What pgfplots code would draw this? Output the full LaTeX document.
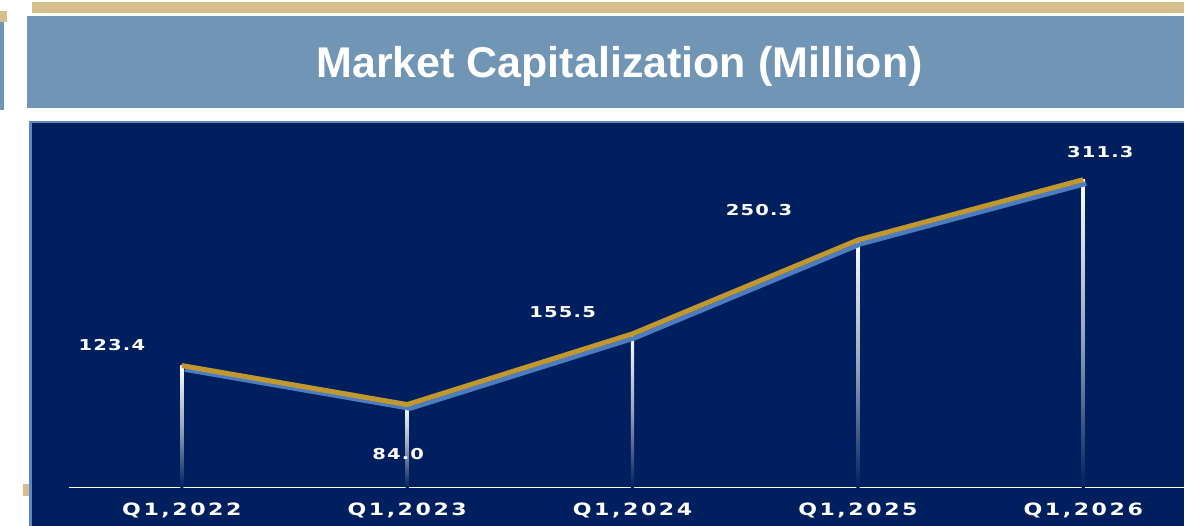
\documentclass[border=0pt]{standalone}
\usepackage{pgfplots}
\pgfplotsset{compat=1.18}
\usepackage{fontspec}
\setmainfont{Liberation Sans}
\newfontfamily\lblfont[FakeStretch=1.3,LetterSpace=8]{DejaVu Sans}
\newfontfamily\tickfont[FakeStretch=1.3,LetterSpace=15]{DejaVu Sans}
\definecolor{navy}{HTML}{001F5E}
\definecolor{panelborder}{HTML}{5F86C4}
\definecolor{band}{HTML}{7095B5}
\definecolor{tanc}{HTML}{D6BF8D}
\definecolor{gold}{HTML}{C0982F}
\definecolor{shadowblue}{HTML}{4C7DC1}
\begin{document}
\begin{tikzpicture}[x=1pt,y=1pt]
\fill[white] (0,0) rectangle (1185,526);
\fill[tanc] (32,524) rectangle (1185,513);
\fill[tanc] (0,515) rectangle (7,504);
\fill[band] (0,504) rectangle (4,416);
\fill[band] (27,510) rectangle (1185,418);
\node[text=white, font=\fontsize{43}{43}\selectfont\bfseries] at (620,460) {Market Capitalization (Million)};
\fill[panelborder] (29,0) rectangle (1185,405);
\fill[navy] (32,0) rectangle (1185,403);
\fill[tanc] (23,42) rectangle (29,30);
\begin{axis}[
  at={(69pt,38pt)}, anchor=south west,
  scale only axis, width=1116pt, height=367pt,
  xmin=-0.501, xmax=4.448, ymin=0, ymax=370.7,
  axis x line*=bottom, hide y axis,
  x axis line style={white, line width=1.6pt},
  xtick={0,1,2,3,4},
  xticklabels={{Q1,2022},{Q1,2023},{Q1,2024},{Q1,2025},{Q1,2026}},
  major tick length=0pt,
  xticklabel style={text=white, font=\tickfont\bfseries\fontsize{17}{17}\selectfont, yshift=-12pt},
  clip=false,
  drop/.style={ybar, bar shift=0pt, bar width=3.2pt, draw=none, top color=white, bottom color=navy, middle color=white!60!navy},
]
\addplot[drop] coordinates {(0,123.4)};
\addplot[drop] coordinates {(1,84.0)};
\addplot[drop] coordinates {(2,155.5)};
\addplot[drop] coordinates {(3,250.3)};
\addplot[drop] coordinates {(4,311.3)};
\addplot[shadowblue, line width=4.5pt, line join=round, xshift=3pt, yshift=-4pt, mark=none] coordinates {(0,123.4) (1,84.0) (2,155.5) (3,250.3) (4,311.3)};
\addplot[gold, line width=5pt, line join=round, mark=none] coordinates {(0,123.4) (1,84.0) (2,155.5) (3,250.3) (4,311.3)};
\tikzset{lbl/.style={text=white, font=\lblfont\bfseries\fontsize{15}{15}\selectfont}}
\node[lbl, xshift=-70pt, yshift=21pt] at (axis cs:0,123.4) {123.4};
\node[lbl, xshift=-9pt, yshift=-50pt] at (axis cs:1,84.0) {84.0};
\node[lbl, xshift=-70pt, yshift=22pt] at (axis cs:2,155.5) {155.5};
\node[lbl, xshift=-99pt, yshift=30pt] at (axis cs:3,250.3) {250.3};
\node[lbl, xshift=17pt, yshift=28pt] at (axis cs:4,311.3) {311.3};
\end{axis}
\end{tikzpicture}
\end{document}
